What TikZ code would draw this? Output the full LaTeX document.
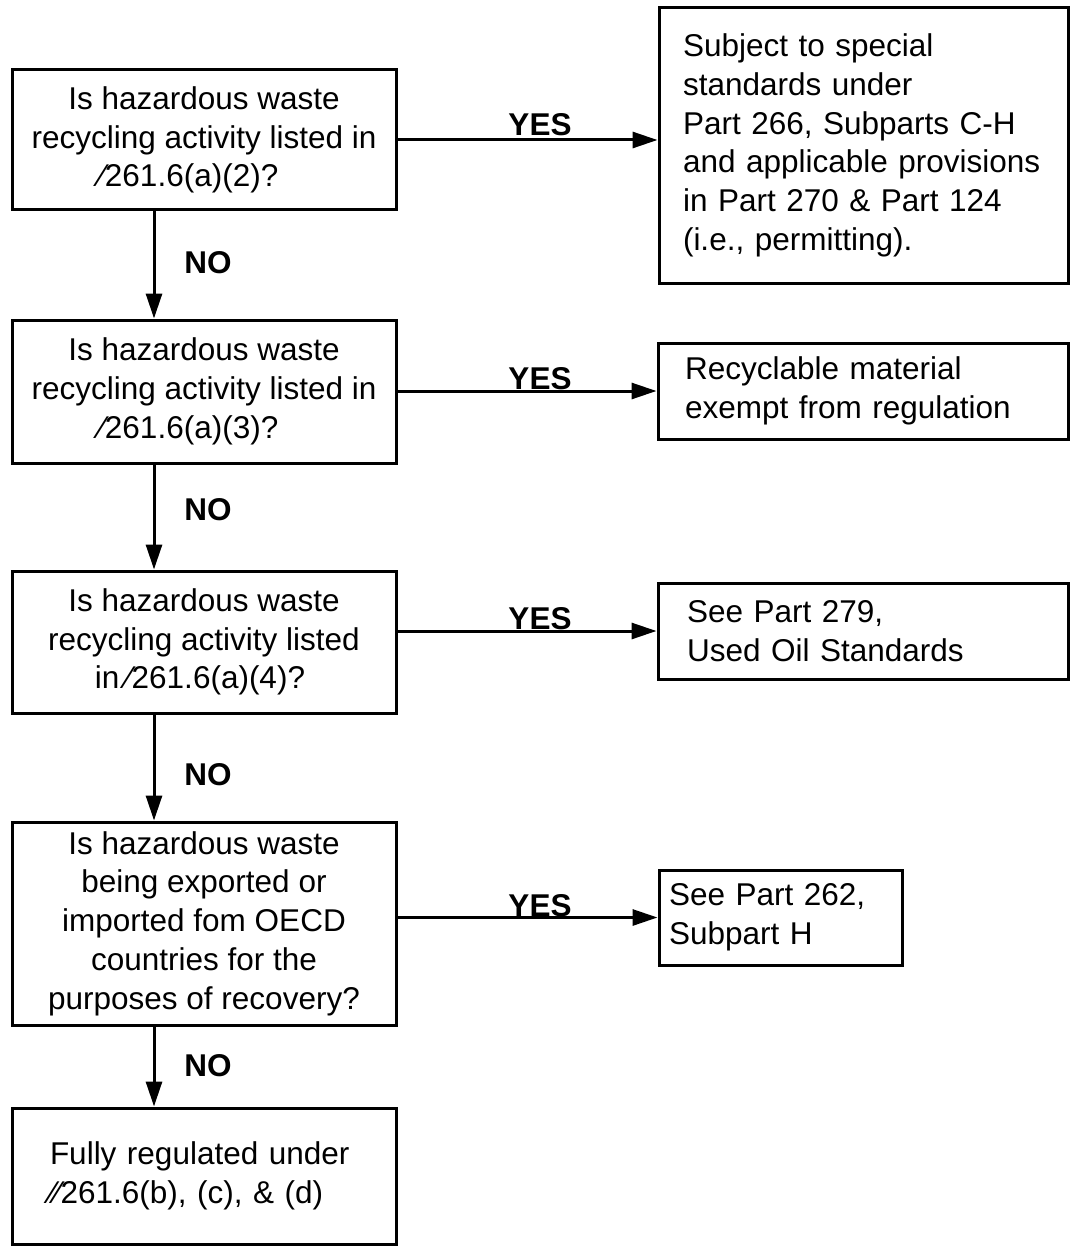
\documentclass[tikz,border=0pt]{standalone}
\usepackage{fontspec}
\setmainfont{Liberation Sans}
\usetikzlibrary{arrows.meta}
\begin{document}
\begin{tikzpicture}[x=1pt,y=-1pt,
  every node/.style={font=\fontsize{31.5pt}{38.7pt}\selectfont},
  qbox/.style={draw, line width=3pt, inner sep=0pt, minimum width=384pt, align=center},
  rbox/.style={draw, line width=3pt, inner ysep=0pt, align=left},
  flow/.style={line width=3pt, -{Triangle[length=25pt,width=16pt]}},
  lbl/.style={font=\fontsize{31.5pt}{38.7pt}\selectfont\bfseries, anchor=base, inner sep=0pt}]
\useasboundingbox (0,0) rectangle (1070,1249);

% question boxes
\node[qbox, minimum height=140pt] (q1) at (204,140)
  {Is hazardous waste\\recycling activity listed in\\⁄261.6(a)(2)?\hphantom{\rule{30pt}{0pt}}};
\node[qbox, minimum height=143pt] (q2) at (204,391.5)
  {Is hazardous waste\\recycling activity listed in\\⁄261.6(a)(3)?\hphantom{\rule{30pt}{0pt}}};
\node[qbox, minimum height=142pt] (q3) at (204,642)
  {Is hazardous waste\\recycling activity listed\\in\kern7pt⁄261.6(a)(4)?\hphantom{\rule{8pt}{0pt}}};
\node[qbox, minimum height=203pt] (q4) at (204,923.5)
  {Is hazardous waste\\being exported or\\imported fom OECD\\countries for the\\purposes of recovery?};
\node[draw, line width=3pt, inner ysep=0pt, inner xsep=38pt, text width=308pt,
  minimum height=136pt, align=left] (q5) at (204,1176)
  {Fully regulated under\\⁄⁄261.6(b), (c), \& (d)};

% result boxes
\node[rbox, inner xsep=24pt, text width=361pt, minimum height=275pt] (rA) at (863.5,145.5)
  {Subject to special\\standards under\\Part 266, Subparts C-H\\and applicable provisions\\in Part 270 \& Part 124\\(i.e., permitting).};
\node[rbox, inner xsep=27pt, text width=356pt, minimum height=96pt] (rB) at (863,391)
  {Recyclable material\\exempt from regulation};
\node[rbox, inner xsep=29pt, text width=352pt, minimum height=96pt] (rC) at (863,631)
  {See Part 279,\\Used Oil Standards};
\node[rbox, inner xsep=10pt, text width=223pt, minimum height=95pt] (rD) at (780.5,917.5)
  {See Part 262,\\Subpart H};

% YES connectors
\draw[flow] (q1.east) -- (q1.east -| rA.west);
\draw[flow] (rB.west -| q2.east) -- (rB.west);
\draw[flow] (rC.west -| q3.east) -- (rC.west);
\draw[flow] (rD.west -| q4.east) -- (rD.west);
\node[lbl] (y1) at (540,136) {YES};
\node[lbl] (y2) at (540,389) {YES};
\node[lbl] (y3) at (540,629) {YES};
\node[lbl] (y4) at (540,916) {YES};

% NO connectors
\draw[flow] ([xshift=-50pt]q1.south) -- ([xshift=-50pt]q2.north);
\draw[flow] ([xshift=-50pt]q2.south) -- ([xshift=-50pt]q3.north);
\draw[flow] ([xshift=-50pt]q3.south) -- ([xshift=-50pt]q4.north);
\draw[flow] ([xshift=-50pt]q4.south) -- ([xshift=-50pt]q5.north);
\node[lbl] (n1) at (208,273) {NO};
\node[lbl] (n2) at (208,520) {NO};
\node[lbl] (n3) at (208,785) {NO};
\node[lbl] (n4) at (208,1076) {NO};
\end{tikzpicture}
\end{document}
